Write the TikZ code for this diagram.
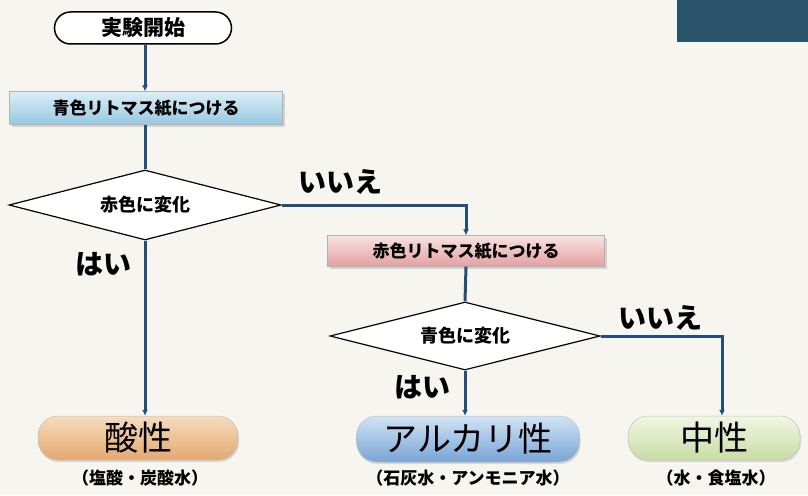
\documentclass[tikz,border=0pt]{standalone}
\usepackage{fontspec}
\setmainfont{Noto Sans CJK JP}
\usetikzlibrary{shapes.geometric,arrows.meta,shadows}
\definecolor{flow}{HTML}{234E7A}
\definecolor{paper}{HTML}{F6F5EF}
\definecolor{corner}{HTML}{2A546C}
\begin{document}
\begin{tikzpicture}[x=1pt,y=-1pt,
  conn/.style={draw=flow,line width=3pt,-{Latex[length=6pt,width=6pt]}},
  conn0/.style={draw=flow,line width=3pt},
  stepbox/.style={rectangle,minimum width=273pt,minimum height=33pt,inner sep=0pt,draw=black!30,line width=0.4pt,font=\bfseries\fontsize{17}{17}\selectfont,drop shadow={shadow xshift=2pt,shadow yshift=-2pt,opacity=0.3}},
  dec/.style={diamond,aspect=3.9,draw=black,line width=1.2pt,fill=white,minimum width=272pt,minimum height=70pt,inner sep=0pt,font=\bfseries\fontsize{18}{18}\selectfont},
  result/.style={rounded corners=20pt,rectangle,draw=black!25,line width=0.5pt,inner sep=0pt,minimum height=44pt,font=\fontsize{34}{34}\selectfont,drop shadow={shadow xshift=1pt,shadow yshift=-2pt,opacity=0.25}},
  lab/.style={font=\bfseries\fontsize{28}{28}\selectfont,inner sep=0pt},
  sub/.style={font=\bfseries\fontsize{17}{17}\selectfont,inner sep=0pt}]
\useasboundingbox (0,0) rectangle (808,495);
\fill[paper] (0,0) rectangle (808,495);
\fill[corner] (677,0) rectangle (808,42);
\node[draw=black,line width=1.5pt,fill=white,rounded corners=16pt,minimum width=177pt,minimum height=32pt,inner sep=0pt,font=\bfseries\fontsize{21}{21}\selectfont] (start) at (143,28) {実験開始};
\node[stepbox,top color={rgb,255:red,220;green,238;blue,246},bottom color={rgb,255:red,150;green,200;blue,224}] (blue) at (146,108) {青色リトマス紙につける};
\node[dec] (d1) at (145,205) {赤色に変化};
\node[stepbox,minimum width=277pt,minimum height=31pt,top color={rgb,255:red,248;green,226;blue,226},bottom color={rgb,255:red,228;green,160;blue,162}] (pink) at (466,251) {赤色リトマス紙につける};
\node[dec,minimum width=270pt,minimum height=68pt] (d2) at (465,336) {青色に変化};
\node[result,minimum width=200pt,top color={rgb,255:red,246;green,220;blue,190},bottom color={rgb,255:red,228;green,168;blue,112}] (acid) at (138,438) {酸性};
\node[result,minimum width=223pt,minimum height=46pt,top color={rgb,255:red,210;green,228;blue,245},bottom color={rgb,255:red,120;green,164;blue,214}] (alk) at (468,439) {アルカリ性};
\node[result,minimum width=172pt,top color={rgb,255:red,242;green,247;blue,228},bottom color={rgb,255:red,200;green,220;blue,164}] (neu) at (714,438) {中性};
\node[sub] (acidsub) at (140,478) {（塩酸・炭酸水）};
\node[sub] (alksub) at (468,478) {（石灰水・アンモニア水）};
\node[sub] (neusub) at (716,478) {（水・食塩水）};
\coordinate (c1) at (466,203);
\coordinate (c2) at (722,335);
\coordinate (x1) at (145,0);
\draw[conn] (start.south -| x1) -- (blue.north -| x1);
\draw[conn0] (blue.south -| x1) -- (d1.north);
\draw[conn] (d1.south) -- (acid.north -| d1.south);
\draw[conn] (d1.east) -| (pink.north -| c1);
\draw[conn0] (pink.south -| c1) -- (d2.north);
\draw[conn] (d2.south) -- (alk.north -| d2.south);
\draw[conn] (d2.east) -| (neu.north -| c2);
\node[lab] (yes1) at (103,264) {はい};
\node[lab] (no1) at (340,182) {いいえ};
\node[lab] (yes2) at (422,387) {はい};
\node[lab] (no2) at (660,318) {いいえ};
\end{tikzpicture}
\end{document}
